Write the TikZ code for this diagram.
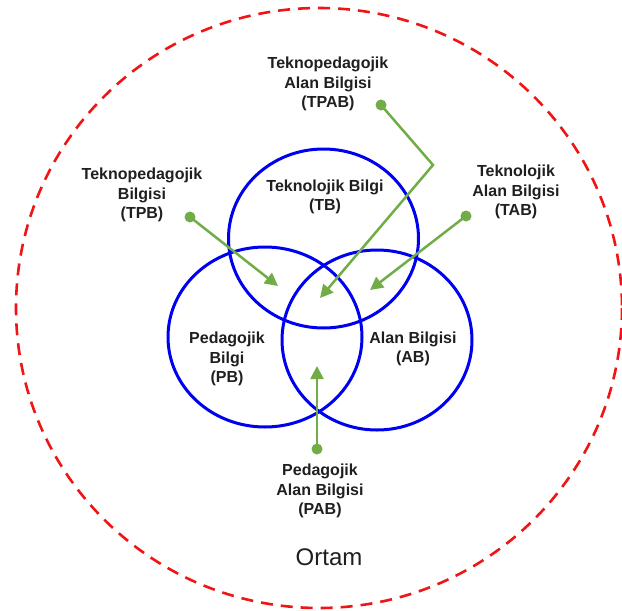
\documentclass[tikz,border=0pt]{standalone}
\usepackage{fontspec}
\setmainfont{Liberation Sans}
\usetikzlibrary{arrows.meta}
\definecolor{venn}{RGB}{0,0,240}
\definecolor{leaf}{RGB}{112,173,71}
\definecolor{envred}{RGB}{240,20,20}
\tikzset{
  vennring/.style={draw=venn, line width=3pt},
  envring/.style={draw=envred, line width=2.6pt, dash pattern=on 12pt off 8pt},
  lbl/.style={align=center, inner sep=0pt, font=\bfseries\fontsize{16}{19.5}\selectfont, text=black!88},
  dotnode/.style={circle, fill=leaf, inner sep=0pt, minimum size=11pt},
  ptr/.style={draw=leaf, line width=2.5pt, -{Triangle[length=13pt,width=13pt]}},
}
\begin{document}
\begin{tikzpicture}[x=1pt,y=-1pt]
\useasboundingbox (0,0) rectangle (622,611);
% environment
\draw[envring] (319,308) ellipse [x radius=303, y radius=300];
% circles
\draw[vennring] (323.5,238.5) ellipse [x radius=95, y radius=89.5];
\draw[vennring] (265,337) ellipse [x radius=97, y radius=90];
\draw[vennring] (377,340) ellipse [x radius=95, y radius=90];
% labels
\node[lbl] (TB) at (325,197) {Teknolojik Bilgi\\(TB)};
\node[lbl] (PB) at (227,359) {Pedagojik\\Bilgi\\(PB)};
\node[lbl] (AB) at (413,349) {Alan Bilgisi\\(AB)};
\node[lbl] (TPAB) at (328,84) {Teknopedagojik\\Alan Bilgisi\\(TPAB)};
\node[lbl] (TPB) at (142,195) {Teknopedagojik\\Bilgisi\\(TPB)};
\node[lbl] (TAB) at (516,192) {Teknolojik\\Alan Bilgisi\\(TAB)};
\node[lbl] (PAB) at (320,491) {Pedagojik\\Alan Bilgisi\\(PAB)};
\node[font=\fontsize{24}{28}\selectfont, text=black!88, inner sep=0pt] (ortam) at (329,557) {Ortam};
% dots
\node[dotnode] (dTPAB) at (381,105) {};
\node[dotnode] (dTPB) at (190,217) {};
\node[dotnode] (dTAB) at (466,216) {};
\node[dotnode] (dPAB) at (317,449) {};
% tips
\coordinate (bend) at (433,165);
\coordinate (tTPAB) at (320,298);
\coordinate (tTPB) at (278,286);
\coordinate (tTAB) at (370,290);
\coordinate (tPAB) at (317,366);
% connectors
\draw[ptr] (dTPAB.center) -- (bend) -- (tTPAB);
\draw[ptr] (dTPB.center) -- (tTPB);
\draw[ptr] (dTAB.center) -- (tTAB);
\draw[ptr] (dPAB.center) -- (tPAB);
\end{tikzpicture}
\end{document}
